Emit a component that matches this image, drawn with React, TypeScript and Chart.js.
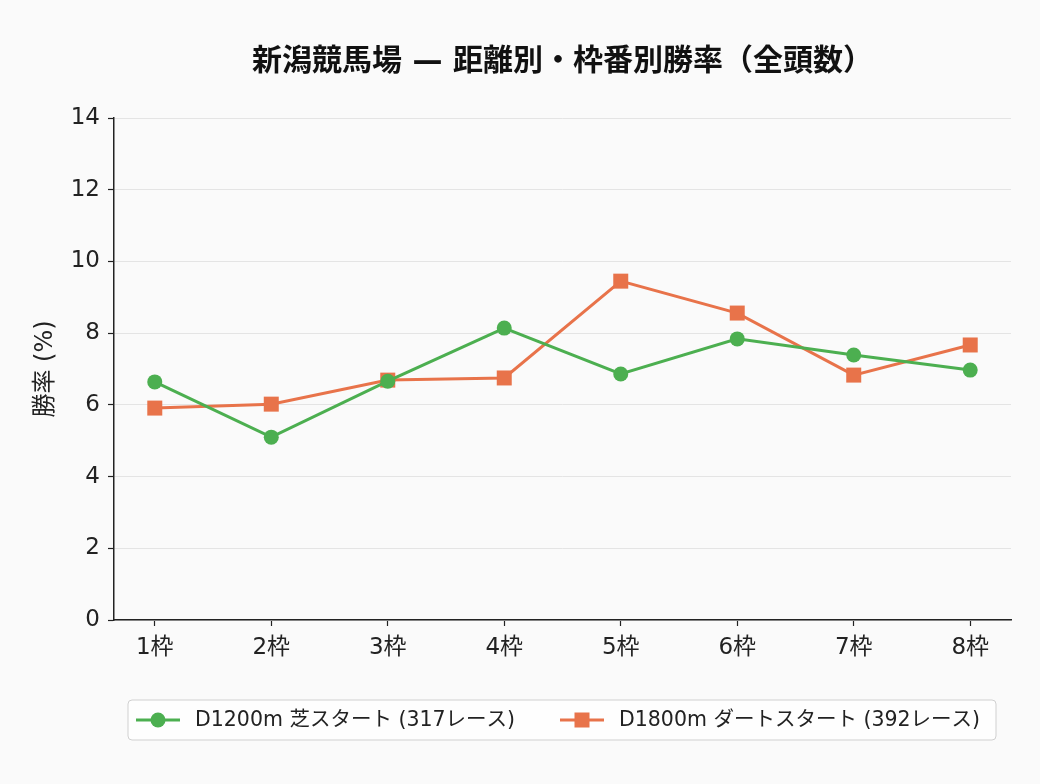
import React, { useEffect, useRef } from "react";
import { Chart, registerables } from "chart.js";

Chart.register(...registerables);

const TITLE = "新潟競馬場 — 距離別・枠番別勝率（全頭数）";
const Y_TITLE = "勝率 (%)";
const CATEGORIES = ["1枠", "2枠", "3枠", "4枠", "5枠", "6枠", "7枠", "8枠"];
const SERIES_A_LABEL = "D1200m 芝スタート (317レース)";
const SERIES_A = [6.64, 5.1, 6.66, 8.14, 6.86, 7.84, 7.39, 6.97];
const SERIES_B_LABEL = "D1800m ダートスタート (392レース)";
const SERIES_B = [5.91, 6.02, 6.69, 6.75, 9.45, 8.56, 6.83, 7.67];
const Y_TICKS = [0, 2, 4, 6, 8, 10, 12, 14];

const GREEN = "#4caf50";
const ORANGE = "#e8734a";
const FONT = "'DejaVu Sans', 'Noto Sans CJK JP', sans-serif";

const customPlugin = {
  id: "custom",
  afterDraw(chart: any) {
    const ctx = chart.ctx as CanvasRenderingContext2D;
    const area = chart.chartArea;
    ctx.save();
    // title
    ctx.fillStyle = "#111";
    ctx.font = `bold 30px ${FONT}`;
    ctx.textAlign = "center";
    ctx.textBaseline = "middle";
    ctx.fillText(TITLE, (area.left + area.right) / 2, 62);

    // legend box
    const bx = 128, by = 700, bw = 868, bh = 40, r = 4;
    ctx.beginPath();
    ctx.moveTo(bx + r, by);
    ctx.lineTo(bx + bw - r, by);
    ctx.quadraticCurveTo(bx + bw, by, bx + bw, by + r);
    ctx.lineTo(bx + bw, by + bh - r);
    ctx.quadraticCurveTo(bx + bw, by + bh, bx + bw - r, by + bh);
    ctx.lineTo(bx + r, by + bh);
    ctx.quadraticCurveTo(bx, by + bh, bx, by + bh - r);
    ctx.lineTo(bx, by + r);
    ctx.quadraticCurveTo(bx, by, bx + r, by);
    ctx.closePath();
    ctx.fillStyle = "rgba(255,255,255,0.8)";
    ctx.fill();
    ctx.strokeStyle = "#d0d0d0";
    ctx.lineWidth = 1;
    ctx.stroke();

    const cy = by + bh / 2;
    const items = [
      { x: 136, color: GREEN, label: SERIES_A_LABEL, shape: "circle" },
      { x: 560, color: ORANGE, label: SERIES_B_LABEL, shape: "square" },
    ];
    ctx.font = `20.5px ${FONT}`;
    ctx.textAlign = "left";
    ctx.textBaseline = "middle";
    for (const it of items) {
      ctx.strokeStyle = it.color;
      ctx.lineWidth = 3;
      ctx.beginPath();
      ctx.moveTo(it.x, cy);
      ctx.lineTo(it.x + 44, cy);
      ctx.stroke();
      ctx.fillStyle = it.color;
      if (it.shape === "circle") {
        ctx.beginPath();
        ctx.arc(it.x + 22, cy, 7.5, 0, Math.PI * 2);
        ctx.fill();
      } else {
        ctx.fillRect(it.x + 22 - 7.5, cy - 7.5, 15, 15);
      }
      ctx.fillStyle = "#222";
      ctx.fillText(it.label, it.x + 59, cy + 1);
    }
    ctx.restore();
  },
};

const bgPlugin = {
  id: "bg",
  beforeDraw(chart: any) {
    const ctx = chart.ctx;
    ctx.save();
    ctx.fillStyle = "#fafafa";
    ctx.fillRect(0, 0, chart.width, chart.height);
    ctx.restore();
  },
};

export default function App() {
  const ref = useRef<HTMLCanvasElement>(null);
  useEffect(() => {
    document.body.style.margin = "0";
    const chart = new Chart(ref.current!, {
      type: "line",
      data: {
        datasets: [
          {
            label: SERIES_A_LABEL,
            data: SERIES_A.map((v, i) => ({ x: i, y: v })),
            borderColor: GREEN,
            backgroundColor: GREEN,
            borderWidth: 3,
            pointStyle: "circle",
            pointRadius: 7.5,
            pointBorderWidth: 0,
            tension: 0,
          },
          {
            label: SERIES_B_LABEL,
            data: SERIES_B.map((v, i) => ({ x: i, y: v })),
            borderColor: ORANGE,
            backgroundColor: ORANGE,
            borderWidth: 3,
            pointStyle: "rect",
            pointRadius: 10.6,
            pointBorderWidth: 0,
            tension: 0,
          },
        ],
      },
      options: {
        animation: false,
        responsive: false,
        maintainAspectRatio: false,
        layout: { padding: { top: 118, right: 29, bottom: 114, left: 0 } },
        plugins: {
          legend: { display: false },
          title: { display: false },
          tooltip: { enabled: false },
        },
        scales: {
          x: {
            type: "linear",
            min: -0.35,
            max: CATEGORIES.length - 1 + 0.35,
            afterBuildTicks: (scale: any) => {
              scale.ticks = CATEGORIES.map((_, i) => ({ value: i }));
            },
            afterFit: (scale: any) => {
              scale.height = 50;
            },
            ticks: {
              callback: (v: any) => CATEGORIES[v] ?? "",
              font: { family: FONT, size: 23 },
              color: "#222",
              padding: 8,
              maxRotation: 0,
              autoSkip: false,
            },
            grid: {
              drawOnChartArea: false,
              drawTicks: true,
              tickLength: 6,
              tickColor: "#222",
              tickWidth: 1.2,
            },
            border: { display: true, color: "#222", width: 1.5 },
          },
          y: {
            type: "linear",
            min: 0,
            max: 14,
            afterBuildTicks: (scale: any) => {
              scale.ticks = Y_TICKS.map((v) => ({ value: v }));
            },
            afterFit: (scale: any) => {
              scale.width = 114;
            },
            ticks: {
              font: { family: FONT, size: 23 },
              color: "#222",
              padding: 8,
            },
            title: {
              display: true,
              text: Y_TITLE,
              font: { family: FONT, size: 24 },
              color: "#222",
              padding: { top: 31, bottom: 0 },
            },
            grid: {
              color: "#e4e4e4",
              lineWidth: 1,
              drawTicks: true,
              tickLength: 6,
              tickColor: "#222",
              tickWidth: 1.2,
            },
            border: { display: true, color: "#222", width: 1.5 },
          },
        },
      },
      plugins: [bgPlugin, customPlugin],
    } as any);
    return () => chart.destroy();
  }, []);
  return <canvas ref={ref} width={1040} height={784} style={{ display: "block" }} />;
}
